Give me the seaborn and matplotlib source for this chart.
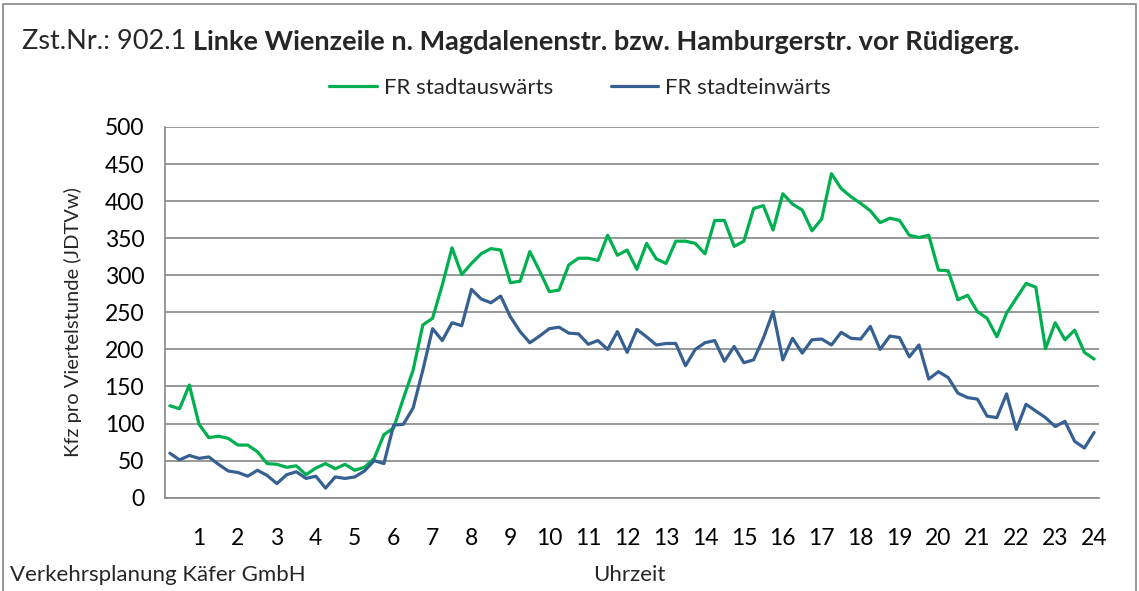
import numpy as np
import pandas as pd
import matplotlib
matplotlib.use("Agg")
import matplotlib.pyplot as plt
import seaborn as sns
from matplotlib.patches import Rectangle

# quarter-hour values (96 per direction)
stadtauswaerts = [
    124, 120, 152, 99, 81, 83, 80, 71, 71, 62, 46, 45, 41, 43, 31, 40, 46, 39, 45, 37, 41, 53, 85, 94,
    134, 172, 233, 242, 287, 337, 301, 316, 329, 336, 334, 290, 292, 332, 306, 278, 280, 314, 323, 323,
    320, 354, 327, 334,
    308, 343, 322, 316, 346, 346, 343, 329, 374, 374, 339, 346, 390, 394, 361, 410, 396, 388, 360, 376,
    437, 417, 406, 397,
    387, 371, 377, 374, 354, 351, 354, 307, 306, 267, 273, 251, 242, 217, 249, 269, 289, 284, 201, 236,
    213, 226, 196, 187,
]
stadteinwaerts = [
    60, 51, 57, 53, 55, 45, 36, 34, 29, 37, 30, 19, 31, 35, 26, 29, 13, 28, 26, 28, 36, 50, 46, 98,
    99, 121, 172, 228, 212, 236, 232, 281, 268, 263, 272, 244, 224, 209, 218, 228, 230, 222, 221, 207,
    212, 200, 224, 196,
    227, 217, 206, 208, 208, 178, 200, 209, 212, 184, 204, 182, 186, 215, 251, 186, 215, 195, 213, 214,
    206, 223, 215, 214,
    231, 200, 218, 216, 190, 206, 160, 170, 162, 141, 135, 133, 110, 108, 140, 92, 126, 117, 108, 96,
    103, 76, 67, 88,
]
series_names = ["FR stadtauswärts", "FR stadteinwärts"]
series_colors = ["#00B050", "#376092"]
hour_labels = [str(h) for h in range(1, 25)]

slot = np.arange(len(stadtauswaerts))
df = pd.DataFrame({
    "slot": np.concatenate([slot, slot]),
    "kfz": stadtauswaerts + stadteinwaerts,
    "Richtung": [series_names[0]] * len(slot) + [series_names[1]] * len(slot),
})

sns.set_style("white")
plt.rcParams["font.family"] = ["Lato", "DejaVu Sans"]

W, H = 1139, 591
fig = plt.figure(figsize=(W / 100, H / 100), dpi=100)
ax = fig.add_axes([165 / W, 1 - 497.7 / H, 934 / W, 370.7 / H])

sns.lineplot(data=df, x="slot", y="kfz", hue="Richtung", palette=series_colors,
             hue_order=series_names, linewidth=2.3, ax=ax, legend=False)

grid_c = "#868686"
ax.set_ylim(0, 500)
ax.set_xlim(-0.5, len(slot) - 0.5)
ax.set_yticks(range(0, 501, 50))
ax.yaxis.grid(True, color=grid_c, linewidth=1.2)
ax.set_axisbelow(True)
ax.set_xticks(np.arange(3, len(slot), 4))
ax.set_xticklabels(hour_labels)
ax.set_xticks(np.arange(-0.5, len(slot), 1), minor=True)
ax.tick_params(axis="x", which="major", length=0, pad=22, labelsize=16.5)
ax.tick_params(axis="x", which="minor", direction="out", length=4, width=1, color=grid_c)
ax.tick_params(axis="y", direction="out", length=6, width=1.2, color=grid_c, pad=9, labelsize=16.5)
ax.tick_params(axis="both", labelcolor="black")
for side in ["top", "right"]:
    ax.spines[side].set_visible(False)
for side in ["left", "bottom"]:
    ax.spines[side].set_color(grid_c)
    ax.spines[side].set_linewidth(1.2)
ax.set_xlabel("")
ax.set_ylabel("")

# title: normal part followed by bold part
t1 = fig.text(22 / W, 1 - 54 / H, "Zst.Nr.: 902.1 ", fontsize=19.5, va="bottom", ha="left")
ax.annotate("Linke Wienzeile n. Magdalenenstr. bzw. Hamburgerstr. vor Rüdigerg.",
            xy=(1, 0), xycoords=t1, va="bottom", ha="left", fontsize=19.5, fontweight="bold")

handles = [plt.Line2D([], [], color=c, linewidth=2.3) for c in series_colors]
fig.legend(handles, series_names, loc="center", bbox_to_anchor=(580 / W, 1 - 88 / H), ncol=2,
           frameon=False, fontsize=16, handlelength=2.15, handletextpad=0.3, columnspacing=2.6)

fig.text(73 / W, 1 - 322 / H, "Kfz pro Viertelstunde (JDTVw)", rotation=90,
         ha="center", va="center", fontsize=14.5)
fig.text(10 / W, 1 - 575 / H, "Verkehrsplanung Käfer GmbH", ha="left", va="center", fontsize=16)
fig.text(629 / W, 1 - 575 / H, "Uhrzeit", ha="center", va="center", fontsize=16)

fig.patches.append(Rectangle((3 / W, -0.05), 1133 / W, 1.05 - 4 / H, transform=fig.transFigure,
                             fill=False, edgecolor=grid_c, linewidth=1.2))

fig.savefig("out.png", dpi=100)
